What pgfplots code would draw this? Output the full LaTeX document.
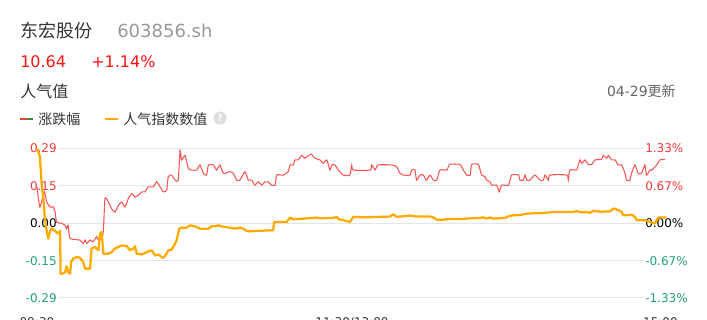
\documentclass[border=0pt]{standalone}
\usepackage{fontspec}
\setmainfont{DejaVu Sans}
\newfontfamily\cjk{Noto Sans CJK SC}
\usepackage{pgfplots}
\pgfplotsset{compat=1.18}
\definecolor{gridc}{RGB}{226,229,236}
\definecolor{labred}{RGB}{245,60,60}
\definecolor{labgreen}{RGB}{36,160,120}
\definecolor{cdark}{RGB}{51,51,51}
\definecolor{cgray}{RGB}{153,153,153}
\definecolor{cmid}{RGB}{102,102,102}
\definecolor{pricered}{RGB}{250,20,20}
\definecolor{redline}{RGB}{248,85,85}
\definecolor{yelline}{RGB}{255,170,0}
\definecolor{leggreen}{RGB}{60,140,60}
\definecolor{legred}{RGB}{232,70,58}

\pgfplotstableread{
t r
0 0.65
1.1 0.29
2.8 0.56
3.7 0.38
5.0 0.29
6.2 0.29
6.9 0.20
7.5 0.02
9.4 0.00
10.7 -0.04
11.3 -0.10
11.9 -0.04
12.6 -0.27
16.4 -0.30
17.6 -0.36
18.3 -0.30
18.9 -0.36
20.2 -0.30
21.4 -0.33
22.7 -0.24
23.4 -0.30
24.0 -0.24
24.6 -0.30
25.3 -0.12
25.9 0.44
27.2 0.38
28.4 0.26
29.7 0.20
31.0 0.32
32.3 0.38
33.5 0.29
34.8 0.44
36.1 0.53
37.3 0.47
38.6 0.50
39.9 0.56
41.1 0.56
42.4 0.65
44.3 0.65
45.6 0.74
46.9 0.65
48.1 0.56
49.4 0.59
50.0 0.83
51.3 0.86
52.6 0.77
53.8 0.77
54.5 1.30
55.1 1.13
56.4 1.21
57.6 0.98
58.9 0.95
60.8 0.95
62.1 1.04
63.4 0.89
64.6 0.86
65.3 1.04
67.2 1.04
68.4 0.95
69.7 1.04
71.0 0.89
73.5 0.92
74.8 0.89
76.1 0.77
77.3 0.77
79.2 0.92
80.5 0.77
81.8 0.77
83.0 0.68
84.3 0.74
85.6 0.68
86.9 0.74
88.1 0.74
89.4 0.68
90.7 0.68
91.3 0.86
93.8 0.86
95.7 0.92
96.4 1.04
97.6 1.04
98.3 1.13
99.5 1.13
100.8 1.21
102.1 1.16
103.4 1.21
104.6 1.23
105.9 1.16
107.8 1.13
109.1 1.07
110.4 1.13
111.6 0.95
112.3 1.04
113.5 1.04
114.8 0.95
116.7 0.86
119.2 0.86
119.9 1.04
120.5 0.95
126.9 0.95
127.5 1.04
128.8 0.95
130.0 1.04
135.1 1.04
137.0 1.01
138.3 0.89
139.5 0.86
142.1 0.86
142.7 0.95
144.0 0.95
144.6 0.77
145.9 0.86
147.2 0.86
148.4 0.77
149.7 0.86
151.0 0.77
152.3 0.77
153.5 0.95
156.1 0.95
157.3 1.05
161.1 1.05
162.4 0.95
163.7 0.86
165.0 0.86
165.6 1.05
168.1 1.05
168.8 0.95
169.4 0.86
170.7 0.83
171.3 0.77
172.6 0.74
173.2 0.68
175.1 0.68
176.1 0.56
177.0 0.68
179.6 0.68
180.8 0.86
183.4 0.86
184.0 0.77
185.3 0.77
185.9 0.86
186.6 0.77
187.8 0.77
189.7 0.86
191.6 0.77
192.9 0.77
193.5 0.86
194.8 0.77
195.4 0.86
201.8 0.86
202.4 0.77
203.0 0.95
205.6 0.95
206.2 1.04
206.9 1.13
207.5 1.07
208.8 1.13
210.0 1.05
211.3 1.05
212.6 1.13
215.1 1.14
215.7 1.21
217.0 1.16
217.6 1.21
218.9 1.13
220.2 1.13
221.4 1.04
222.7 1.04
224.0 0.89
224.6 0.77
225.9 0.77
226.5 0.89
227.8 1.04
229.0 0.89
230.3 0.89
231.6 1.04
232.2 0.86
233.5 0.95
234.2 0.95
236.1 1.04
237.3 1.13
239.2 1.14
}\redtable

\pgfplotstableread{
t v
0 0.29
1.1 0.26
1.8 0.15
2.4 0.10
3.0 0.02
3.7 -0.03
4.3 -0.06
5.0 -0.03
5.6 -0.02
6.9 -0.03
8.1 -0.04
8.8 -0.03
9.0 -0.196
9.4 -0.196
10.7 -0.19
11.3 -0.167
11.9 -0.19
12.6 -0.196
13.0 -0.15
13.8 -0.137
15.1 -0.131
16.4 -0.134
17.6 -0.15
18.3 -0.176
20.2 -0.176
20.8 -0.098
22.1 -0.092
23.4 -0.105
24.0 -0.04
24.6 -0.034
25.3 -0.118
27.2 -0.118
28.4 -0.112
29.7 -0.098
31.0 -0.092
32.3 -0.086
34.2 -0.089
35.4 -0.105
36.7 -0.098
37.3 -0.089
38.0 -0.118
39.9 -0.121
41.1 -0.116
42.4 -0.109
43.7 -0.105
45.0 -0.125
46.2 -0.121
47.5 -0.131
48.1 -0.134
49.4 -0.118
50.0 -0.105
51.3 -0.102
52.6 -0.079
53.2 -0.066
54.2 -0.021
55.1 -0.017
57.0 -0.017
58.3 -0.008
60.2 -0.012
62.1 -0.021
65.3 -0.021
66.5 -0.012
67.8 -0.012
69.1 -0.008
71.0 -0.014
73.5 -0.017
75.4 -0.021
77.3 -0.017
78.6 -0.021
79.9 -0.030
81.1 -0.031
90.0 -0.027
90.3 0.005
95.1 0.005
96.4 0.022
97.6 0.016
100.2 0.017
102.7 0.019
106.6 0.022
107.8 0.019
112.9 0.021
114.2 0.025
114.8 0.016
116.7 0.012
119.2 0.005
120.5 0.025
124.3 0.023
134.5 0.026
135.7 0.035
137.0 0.025
139.5 0.027
142.1 0.030
144.6 0.026
149.7 0.026
151.0 0.023
152.3 0.014
154.8 0.014
157.3 0.017
162.4 0.017
165.0 0.019
168.8 0.021
170.0 0.023
171.3 0.018
172.6 0.023
173.8 0.018
178.3 0.021
179.6 0.027
181.4 0.031
184.0 0.032
187.2 0.038
192.9 0.040
197.3 0.044
204.3 0.044
205.6 0.048
206.9 0.043
209.4 0.043
210.7 0.040
211.7 0.048
214.5 0.045
218.3 0.046
219.5 0.057
220.2 0.056
221.4 0.051
222.7 0.044
223.3 0.031
225.2 0.031
226.5 0.034
227.8 0.025
228.4 0.012
231.6 0.012
233.5 0.005
235.4 -0.001
236.1 0.012
236.7 0.022
239.9 0.022
}\yeltable

\begin{document}
\begin{tikzpicture}[x=0.75pt,y=-0.75pt]
% header
\node[anchor=west,inner sep=0,font=\fontsize{13.5}{15}\selectfont\cjk,text=cdark] at (20,31) {东宏股份};
\node[anchor=west,inner sep=0,font=\fontsize{13.5}{15}\selectfont,text=cgray] at (117,31) {603856.sh};
\node[anchor=west,inner sep=0,font=\fontsize{12}{14}\selectfont,text=pricered] at (20,62) {10.64};
\node[anchor=west,inner sep=0,font=\fontsize{12}{14}\selectfont,text=pricered] at (91,62) {+1.14\%};
\node[anchor=west,inner sep=0,font=\fontsize{12}{14}\selectfont\cjk,text=cdark] at (20,91) {人气值};
\node[anchor=east,inner sep=0,font=\fontsize{10.5}{12}\selectfont,text=cmid] at (676,91) {04-29{\cjk 更新}};
% legend
\draw[legred,line width=2.2pt] (20,119) -- (27,119);
\draw[leggreen,line width=2.2pt] (27,119) -- (33,119);
\node[anchor=west,inner sep=0,font=\fontsize{10.5}{12}\selectfont\cjk,text=cdark] at (38,119) {涨跌幅};
\draw[yelline,line width=2.2pt] (105,119) -- (118,119);
\node[anchor=west,inner sep=0,font=\fontsize{10.5}{12}\selectfont\cjk,text=cdark] at (123,119) {人气指数数值};
\fill[black!13] (220,118) circle (6.5);
\node[inner sep=0,font=\fontsize{7}{8}\selectfont\bfseries,text=white] at (220,118) {?};

% grid + left labels
\begin{axis}[at={(27.75pt,-223.5pt)},anchor=south west,scale only axis,
  width=472.5pt,height=112.1pt,
  xmin=0,xmax=240,ymin=-0.29,ymax=0.29,
  axis line style={draw=none},major tick length=0pt,
  ymajorgrids,grid style={draw=gridc,line width=0.75pt},
  ytick={-0.29,-0.145,0,0.145,0.29},
  yticklabels={\textcolor{labgreen}{-0.29},\textcolor{labgreen}{-0.15},\textcolor{black}{0.00},\textcolor{labred}{0.15},\textcolor{labred}{0.29}},
  yticklabel style={anchor=east,xshift=16pt,fill=white,inner sep=1pt,font=\fontsize{9}{10}\selectfont},
  xtick={0,120,237.5},
  xticklabels={09:30,11:30/13:00,15:00},
  xticklabel style={text=cdark,font=\fontsize{9}{10}\selectfont,yshift=-11.5pt},
]
\end{axis}
% right labels
\begin{axis}[at={(27.75pt,-223.5pt)},anchor=south west,scale only axis,
  width=472.5pt,height=112.1pt,
  xmin=0,xmax=240,ymin=-1.3333,ymax=1.3333,
  axis line style={draw=none},major tick length=0pt,
  xtick=\empty,
  ytick={-1.3333,-0.6667,0,0.6667,1.3333},
  yticklabel pos=right,
  yticklabels={\textcolor{labgreen}{-1.33\%},\textcolor{labgreen}{-0.67\%},\textcolor{black}{0.00\%},\textcolor{labred}{0.67\%},\textcolor{labred}{1.33\%}},
  yticklabel style={anchor=west,xshift=-17.5pt,fill=white,inner sep=1pt,font=\fontsize{9}{10}\selectfont},
]
\end{axis}
% red line (price change, right scale)
\begin{axis}[at={(27.75pt,-223.5pt)},anchor=south west,scale only axis,
  width=472.5pt,height=112.1pt,hide axis,clip=false,
  xmin=0,xmax=240,ymin=-1.3333,ymax=1.3333]
\addplot[redline,line width=0.8pt,smooth,tension=0.35,mark=none] table[x=t,y=r] {\redtable};
\end{axis}
% yellow line (popularity index, left scale)
\begin{axis}[at={(27.75pt,-223.5pt)},anchor=south west,scale only axis,
  width=472.5pt,height=112.1pt,hide axis,clip=false,
  xmin=0,xmax=240,ymin=-0.29,ymax=0.29]
\addplot[yelline,line width=1.7pt,line join=round,mark=none] table[x=t,y=v] {\yeltable};
\end{axis}
\pgfresetboundingbox
\path[use as bounding box] (0,0) rectangle (707,320);
\end{tikzpicture}
\end{document}
